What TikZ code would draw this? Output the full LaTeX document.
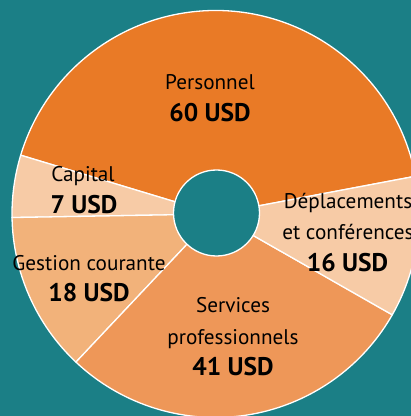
\documentclass[tikz,border=0pt]{standalone}
\usepackage{fontspec}
\setmainfont{PT Sans}
\definecolor{bgteal}{HTML}{1B7F86}
\definecolor{cpers}{HTML}{E97A26}
\definecolor{cserv}{HTML}{EE9758}
\definecolor{cgest}{HTML}{F2B27A}
\definecolor{clight}{HTML}{F7CBA6}
\tikzset{
  lbl/.style={anchor=base, inner sep=0pt, font=\fontsize{21.2}{25}\selectfont, text=black},
  val/.style={anchor=base, inner sep=0pt, font=\fontsize{25.5}{29}\selectfont\bfseries, text=black},
  slice/.style={draw=white, line width=1.3pt, line join=round}
}
\begin{document}
\begin{tikzpicture}[x=1pt,y=1pt]
\useasboundingbox (0,0) rectangle (411,416);
\clip (0,0) rectangle (411,416);
\fill[bgteal] (0,0) rectangle (411,416);
\coordinate (c) at (215.5,202);
\def\R{203.5}
\foreach \a/\b/\col in {10.7/163.2/cpers, 163.2/181.0/clight, 181.0/226.7/cgest, 226.7/330.3/cserv, 330.3/370.7/clight}{
  \filldraw[slice, fill=\col] (c) -- ++(\a:\R) arc[start angle=\a, end angle=\b, radius=\R] -- cycle;
}
\filldraw[draw=white, line width=1.3pt, fill=bgteal] (216.5,203) circle[radius=43];
\node[lbl] (pers) at (210,326) {Personnel};
\node[val] (persv) at (210,294) {60 USD};
\node[lbl] (cap) at (83,234.3) {Capital};
\node[val] (capv) at (84,202.7) {7 USD};
\node[lbl] (gest) at (89,145.3) {Gestion courante};
\node[val] (gestv) at (89,114.3) {18 USD};
\node[lbl] (serv1) at (233,103) {Services};
\node[lbl] (serv2) at (233,71) {professionnels};
\node[val] (servv) at (233,40) {41 USD};
\node[lbl] (dep1) at (348,207) {Déplacements};
\node[lbl] (dep2) at (348,176) {et conférences};
\node[val] (depv) at (347.5,144) {16 USD};
\end{tikzpicture}
\end{document}
